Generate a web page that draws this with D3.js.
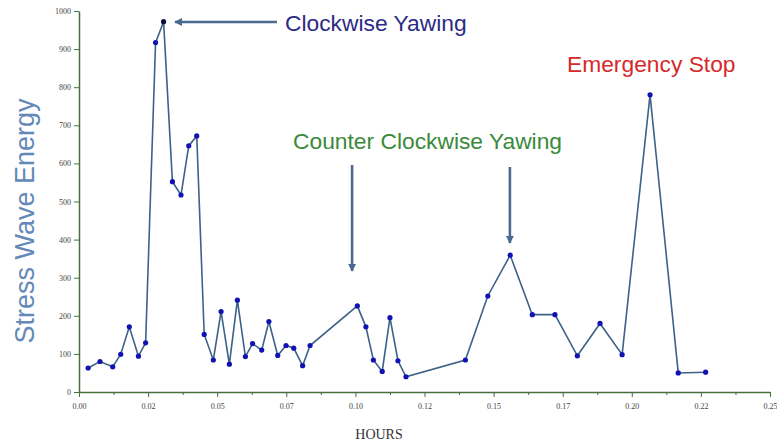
<!DOCTYPE html>
<html>
<head>
<meta charset="utf-8">
<script src="https://cdn.jsdelivr.net/npm/d3@7"></script>
<style>
  body { margin: 0; background: #fff; }
</style>
</head>
<body>
<script>
const width = 777, height = 443;
const margin = {left: 79, right: 7, top: 11, bottom: 51};

// hours and stress wave energy
const hours = [0.0033, 0.0076, 0.0122, 0.0151, 0.0182, 0.0215, 0.0241, 0.0277, 0.0306, 0.0338,
  0.0369, 0.0397, 0.0426, 0.0453, 0.0486, 0.0514, 0.0544, 0.0573, 0.0602, 0.0628,
  0.0661, 0.0687, 0.0719, 0.0749, 0.0777, 0.0809, 0.0836, 0.1007, 0.1038, 0.1065,
  0.1097, 0.1125, 0.1154, 0.1183, 0.1398, 0.1479, 0.1560, 0.1640, 0.1722, 0.1803,
  0.1885, 0.1965, 0.2066, 0.2168, 0.2267];
const energy = [63, 80, 66, 99, 171, 94, 129, 917, 972, 552,
  517, 646, 672, 151, 84, 211, 73, 241, 93, 127,
  110, 185, 96, 122, 115, 69, 122, 226, 171, 84,
  54, 195, 82, 40, 84, 252, 359, 203, 203, 95,
  180, 98, 780, 50, 52];

const xTicks = [0, 0.025, 0.05, 0.075, 0.1, 0.125, 0.15, 0.175, 0.2, 0.225, 0.25];
const xTickLabels = ["0.00", "0.02", "0.05", "0.07", "0.10", "0.12", "0.15", "0.17", "0.20", "0.22", "0.25"];
const yTicks = [0, 100, 200, 300, 400, 500, 600, 700, 800, 900, 1000];

const data = hours.map((h, i) => ({h, e: energy[i]}));

const svg = d3.select("body").append("svg")
  .attr("width", width)
  .attr("height", height)
  .style("font-family", "'Liberation Sans', Arial, sans-serif");

const x = d3.scaleLinear().domain([0, 0.25]).range([margin.left, width - margin.right]);
const y = d3.scaleLinear().domain([0, 1000]).range([height - margin.bottom, margin.top]);

const axisColor = "#46703c";
const serif = "'Liberation Serif', 'Times New Roman', serif";

// x axis with minor ticks
const minor = d3.range(0, 10).map(i => 0.0125 + i * 0.025);
svg.append("g")
  .attr("transform", `translate(0,${y(0)})`)
  .call(d3.axisBottom(x).tickValues(minor).tickSize(3).tickFormat(""))
  .call(g => g.select(".domain").remove())
  .call(g => g.selectAll("line").attr("stroke", axisColor));

svg.append("g")
  .attr("transform", `translate(0,${y(0)})`)
  .call(d3.axisBottom(x).tickValues(xTicks).tickSize(5).tickSizeOuter(0)
    .tickFormat((d, i) => xTickLabels[i]))
  .call(g => g.select(".domain").attr("stroke", axisColor).attr("stroke-width", 1.5))
  .call(g => g.selectAll("line").attr("stroke", axisColor))
  .call(g => g.selectAll("text")
    .style("font-family", serif)
    .attr("font-size", 8).attr("fill", "#444").attr("dy", "1.1em"));

svg.append("g")
  .attr("transform", `translate(${x(0)},0)`)
  .call(d3.axisLeft(y).tickValues(yTicks).tickSize(5).tickSizeOuter(0).tickFormat(d3.format("d")))
  .call(g => g.select(".domain").attr("stroke", axisColor).attr("stroke-width", 1.5))
  .call(g => g.selectAll("line").attr("stroke", axisColor))
  .call(g => g.selectAll("text")
    .style("font-family", serif)
    .attr("font-size", 8).attr("fill", "#444"));

// axis titles
svg.append("text")
  .attr("transform", `translate(34,221) rotate(-90)`)
  .attr("text-anchor", "middle")
  .attr("font-size", 27)
  .attr("fill", "#6489b8")
  .text("Stress Wave Energy");

svg.append("text")
  .attr("x", 379)
  .attr("y", 439)
  .attr("text-anchor", "middle")
  .style("font-family", serif)
  .attr("font-size", 14)
  .attr("fill", "#333")
  .text("HOURS");

// series
const line = d3.line().x(d => x(d.h)).y(d => y(d.e));
svg.append("path")
  .datum(data)
  .attr("d", line)
  .attr("fill", "none")
  .attr("stroke", "#3d6189")
  .attr("stroke-width", 1.6);

svg.append("g")
  .selectAll("circle")
  .data(data)
  .join("circle")
  .attr("cx", d => x(d.h))
  .attr("cy", d => y(d.e))
  .attr("r", 2.6)
  .attr("fill", d => d.e === 972 ? "#101040" : "#1212b4");

// annotations
const arrowColor = "#4a6a90";
svg.append("defs").append("marker")
  .attr("id", "head")
  .attr("viewBox", "0 0 10 10")
  .attr("refX", 9).attr("refY", 5)
  .attr("markerWidth", 3.2).attr("markerHeight", 3.2)
  .attr("orient", "auto")
  .append("path").attr("d", "M0,0L10,5L0,10Z").attr("fill", arrowColor);

function arrow(x1, y1, x2, y2) {
  svg.append("line")
    .attr("x1", x1).attr("y1", y1).attr("x2", x2).attr("y2", y2)
    .attr("stroke", arrowColor).attr("stroke-width", 2.6)
    .attr("marker-end", "url(#head)");
}
arrow(277, 22, 175, 22);
arrow(x(0.0988), 165, x(0.0988), 271);
arrow(x(0.1559), 167, x(0.1559), 243);

svg.append("text").attr("x", 285).attr("y", 31)
  .attr("font-size", 22.8).attr("fill", "#2b2b85").text("Clockwise Yawing");
svg.append("text").attr("x", 293).attr("y", 149)
  .attr("font-size", 22.8).attr("fill", "#3a8a3a").text("Counter Clockwise Yawing");
svg.append("text").attr("x", 567).attr("y", 72)
  .attr("font-size", 22.8).attr("fill", "#d42a2a").text("Emergency Stop");
</script>
</body>
</html>
